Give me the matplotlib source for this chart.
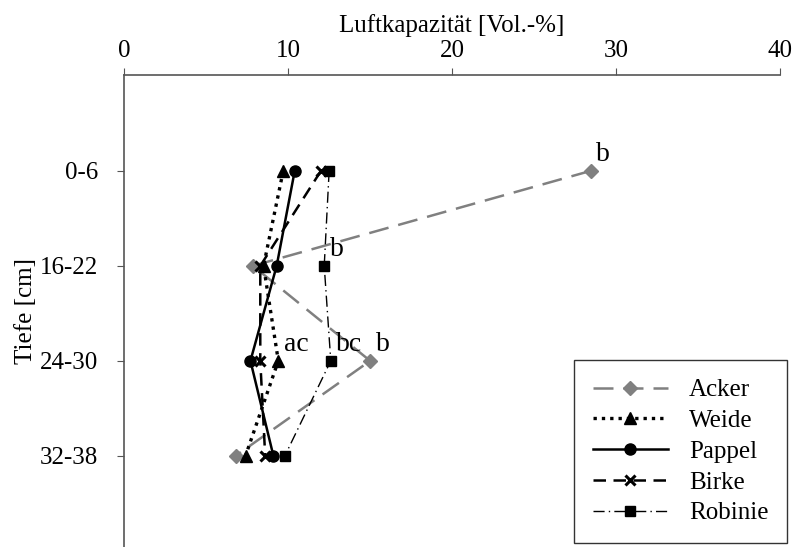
import matplotlib.pyplot as plt

plt.rcParams["font.family"] = ["Liberation Serif", "DejaVu Serif"]

tiefe = ["0-6", "16-22", "24-30", "32-38"]
acker = [28.45, 7.85, 15.0, 6.8]
weide = [9.7, 8.5, 9.4, 7.4]
pappel = [10.4, 9.3, 7.7, 9.1]
birke = [12.0, 8.3, 8.3, 8.6]
robinie = [12.5, 12.2, 12.6, 9.8]

# significance letters: (text, x value, depth index)
letters = [("b", 28.45, 0), ("b", 12.2, 1), ("ac", 9.4, 2), ("bc", 12.6, 2), ("b", 15.0, 2)]

fig = plt.figure(figsize=(7.96, 5.47), dpi=100)
ax = fig.add_axes([0.156, 0.0, 0.824, 0.863])
pos = list(range(len(tiefe)))

ax.plot(acker, pos, color="#808080", ls=(0, (8, 4)), lw=1.8, marker="D", ms=7, label="Acker")
ax.plot(weide, pos, color="black", ls=(0, (1, 1.5)), lw=2.4, marker="^", ms=8, label="Weide")
ax.plot(pappel, pos, color="black", ls="-", lw=1.8, marker="o", ms=8, label="Pappel")
ax.plot(birke, pos, color="black", ls=(0, (5, 3)), lw=1.8, marker="x", ms=7, mew=2.2, label="Birke")
ax.plot(robinie, pos, color="black", ls=(0, (8, 3, 1, 3)), lw=1.0, marker="s", ms=7, label="Robinie")

for txt, xv, yi in letters:
    ax.annotate(txt, (xv, yi), xytext=(4, 3), textcoords="offset points",
                fontsize=20, ha="left", va="bottom")

ax.set_xlim(0, 40)
ax.set_ylim(3.96, -1.01)
ax.set_xticks([0, 10, 20, 30, 40])
ax.set_yticks(pos)
ax.set_yticklabels(tiefe)
ax.xaxis.tick_top()
ax.xaxis.set_label_position("top")
ax.set_xlabel("Luftkapazität [Vol.-%]", fontsize=18, labelpad=6)
ax.set_ylabel("Tiefe [cm]", fontsize=18, labelpad=2)
ax.tick_params(labelsize=18, length=5, color="#555555")
ax.tick_params(axis="y", pad=14)
ax.tick_params(axis="x", pad=4)
ax.spines["right"].set_visible(False)
ax.spines["bottom"].set_visible(False)
ax.spines["left"].set_color("#555555")
ax.spines["top"].set_color("#555555")
ax.spines["left"].set_linewidth(1.2)
ax.spines["top"].set_linewidth(1.2)

leg = ax.legend(loc="lower right", bbox_to_anchor=(1.011, 0.008), fontsize=18,
                handlelength=3.0, frameon=True, fancybox=False, edgecolor="black",
                borderpad=0.75, labelspacing=0.33, handletextpad=0.85,
                borderaxespad=0)
leg.get_frame().set_linewidth(1.0)

fig.savefig("out.png", dpi=100)
